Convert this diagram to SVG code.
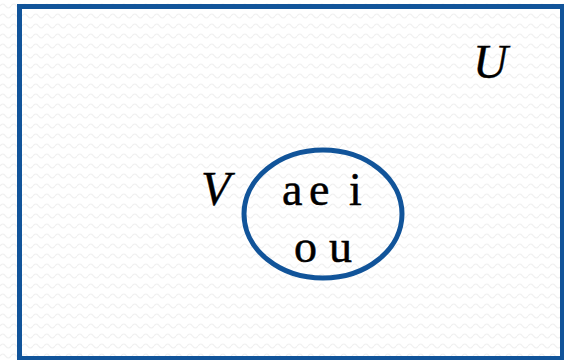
<svg xmlns="http://www.w3.org/2000/svg" width="564" height="360" viewBox="0 0 564 360">
  <style>
    .frame { fill: url(#waves); stroke: #11549A; stroke-width: 5; }
    .set { fill: none; stroke: #11549A; stroke-width: 5; }
    .lbl { font-family: "Liberation Serif", "Times New Roman", serif; font-style: italic; font-size: 48px; fill: #000; stroke: #000; stroke-width: 0.4; }
    .el { font-family: "Liberation Serif", "Times New Roman", serif; font-size: 46px; fill: #000; stroke: #000; stroke-width: 0.5; }
  </style>
  <defs>
    <pattern id="waves" width="11" height="10" patternUnits="userSpaceOnUse">
      <rect width="11" height="10" fill="#ffffff"/>
      <path d="M0 6 Q2.75 2 5.5 6 T11 6" fill="none" stroke="#f0f0f0" stroke-width="1.2"/>
    </pattern>
  </defs>
  <rect width="564" height="360" fill="url(#waves)"/>
  <g id="universe">
    <rect class="frame" x="19.5" y="6.5" width="543" height="352"/>
    <text class="lbl" x="473" y="78">U</text>
  </g>
  <g id="setV">
    <ellipse class="set" cx="323" cy="214" rx="79" ry="64"/>
    <text class="lbl" x="201" y="205">V</text>
    <text class="el" x="282 303 309 330 349" y="205">a e i</text>
    <text class="el" x="294 318 329" y="262">o u</text>
  </g>
  <g id="connectors"></g>
</svg>
